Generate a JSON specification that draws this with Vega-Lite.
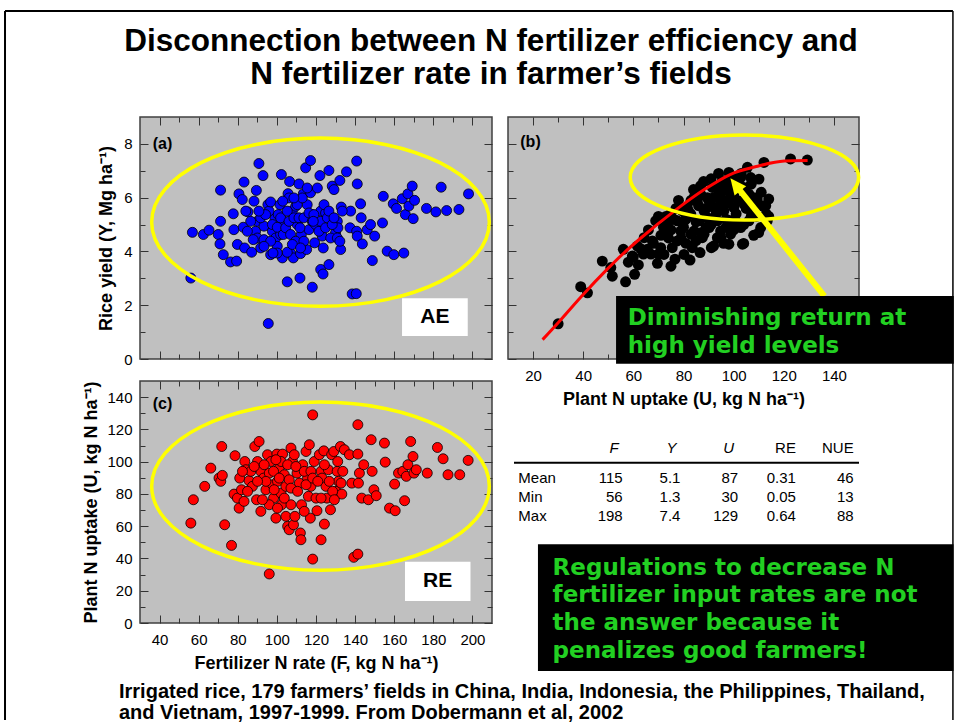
{
"$schema":"https://vega.github.io/schema/vega-lite/v6.json",
"background":"white",
"padding":{"left":3,"top":9,"right":0,"bottom":0},
"config":{
 "font":"Liberation Sans",
 "view":{"fill":"#c0c0c0","stroke":"#404040","strokeWidth":1.5},
 "axis":{"domain":false,"grid":false,"tickColor":"#333333","tickWidth":1,"labelFont":"Liberation Sans","labelFontSize":15,"labelColor":"#000000","labelFlush":false,"labelOverlap":false,"titleFont":"Liberation Sans","titleFontSize":18,"titleFontWeight":"bold","titleColor":"#000000","minExtent":0}
},
"bounds":"flush",
"spacing":{"row":22,"column":16},
"columns":2,
"concat":[
{
"width":352,"height":242,
"resolve":{"axis":{"x":"independent","y":"independent"}},
"layer":[
 {"data":{"values":[
{"F":56,"Y":3.01},{"F":56.8,"Y":4.71},{"F":62.4,"Y":4.63},{"F":65.3,"Y":4.79},{"F":70,"Y":4.63},{"F":70.9,"Y":4.28},{"F":71.2,"Y":6.28},{"F":71.2,"Y":5.12},{"F":72.6,"Y":3.88},{"F":76.3,"Y":3.61},{"F":79.4,"Y":3.64},{"F":77.7,"Y":5.4},{"F":78,"Y":4.81},{"F":79.8,"Y":4.26},{"F":80.6,"Y":6.14},{"F":82.3,"Y":5.93},{"F":83.2,"Y":6.58},{"F":83.5,"Y":4.13},{"F":87.1,"Y":3.97},{"F":82.8,"Y":4.9},{"F":85.2,"Y":5.47},{"F":88.3,"Y":5.87},{"F":89.5,"Y":6.27},{"F":90.8,"Y":7.27},{"F":92.9,"Y":6.82},{"F":90,"Y":5.12},{"F":91.7,"Y":4.13},{"F":89.1,"Y":4.75},{"F":93.4,"Y":4.94},{"F":95.4,"Y":5.74},{"F":96,"Y":5.5},{"F":96.8,"Y":5.84},{"F":95.6,"Y":1.32},{"F":96.8,"Y":3.88},{"F":97.7,"Y":4.75},{"F":99,"Y":5.21},{"F":99.4,"Y":4.5},{"F":100.2,"Y":4.19},{"F":101.9,"Y":4.63},{"F":102.3,"Y":6.86},{"F":101.6,"Y":5.74},{"F":102.8,"Y":3.76},{"F":103.6,"Y":5.12},{"F":105.3,"Y":2.87},{"F":105.7,"Y":6.15},{"F":106.5,"Y":6.6},{"F":106.2,"Y":5.99},{"F":107,"Y":3.94},{"F":107.9,"Y":5.5},{"F":108.4,"Y":3.76},{"F":109.6,"Y":5.68},{"F":110.4,"Y":5.0},{"F":111.3,"Y":6.51},{"F":111.8,"Y":3.01},{"F":112.1,"Y":3.92},{"F":112.5,"Y":4.63},{"F":113.5,"Y":6.14},{"F":114.7,"Y":7.11},{"F":115.2,"Y":4.07},{"F":115.5,"Y":5.74},{"F":116.4,"Y":4.81},{"F":117.2,"Y":7.38},{"F":117.2,"Y":6.18},{"F":117.8,"Y":5.37},{"F":118.1,"Y":2.67},{"F":119.3,"Y":4.32},{"F":120.7,"Y":6.36},{"F":122,"Y":6.82},{"F":122.4,"Y":5.5},{"F":122.4,"Y":3.33},{"F":123.2,"Y":4.57},{"F":123.6,"Y":3.16},{"F":123.7,"Y":4.13},{"F":124.9,"Y":5.43},{"F":126.6,"Y":3.51},{"F":126.6,"Y":7.01},{"F":128.3,"Y":6.43},{"F":129.2,"Y":6.3},{"F":130,"Y":4.69},{"F":130.9,"Y":5.12},{"F":131.2,"Y":4.88},{"F":132.2,"Y":6.64},{"F":132.6,"Y":4.07},{"F":132.9,"Y":5.65},{"F":135.6,"Y":6.96},{"F":137.7,"Y":5.5},{"F":137.4,"Y":4.88},{"F":138.5,"Y":2.42},{"F":140.6,"Y":2.43},{"F":140.8,"Y":7.36},{"F":141.1,"Y":6.51},{"F":140.8,"Y":4.75},{"F":141.1,"Y":4.57},{"F":142.8,"Y":5.77},{"F":143.1,"Y":5.25},{"F":143.7,"Y":4.28},{"F":146.2,"Y":4.81},{"F":147.9,"Y":5.0},{"F":148.8,"Y":3.66},{"F":150,"Y":4.57},{"F":154,"Y":5.06},{"F":154.4,"Y":6.05},{"F":156.4,"Y":4.01},{"F":159.5,"Y":5.77},{"F":159.8,"Y":3.88},{"F":161.2,"Y":5.6},{"F":164.1,"Y":5.96},{"F":164.9,"Y":3.94},{"F":165.7,"Y":5.37},{"F":167,"Y":6.14},{"F":167.5,"Y":5.69},{"F":169.2,"Y":6.43},{"F":169.7,"Y":5.22},{"F":170.4,"Y":5.9},{"F":176.5,"Y":5.6},{"F":181.3,"Y":5.47},{"F":184,"Y":6.39},{"F":186.8,"Y":5.52},{"F":193.1,"Y":5.56},{"F":198,"Y":6.14},
{"F":86.6,"Y":5.12},{"F":90,"Y":4.5},{"F":91.7,"Y":5.25},{"F":93.4,"Y":4.44},{"F":94.2,"Y":5.37},{"F":96.8,"Y":4.38},{"F":97.7,"Y":5.0},{"F":100.2,"Y":4.9},{"F":100.7,"Y":5.37},{"F":101.9,"Y":5.25},{"F":103.3,"Y":4.63},{"F":104.5,"Y":4.88},{"F":105.3,"Y":5.5},{"F":106.2,"Y":5.12},{"F":107,"Y":4.63},{"F":108.7,"Y":5.25},{"F":109.6,"Y":4.38},{"F":111.3,"Y":5.25},{"F":111.8,"Y":4.88},{"F":113.8,"Y":5.25},{"F":113.8,"Y":4.38},{"F":116.4,"Y":5.43},{"F":118.1,"Y":5.12},{"F":118.9,"Y":5.37},{"F":119.8,"Y":5.0},{"F":121.5,"Y":4.75},{"F":122.4,"Y":5.12},{"F":124.1,"Y":5.74},{"F":124.9,"Y":4.88},{"F":125.8,"Y":5.25},{"F":126.6,"Y":5.5},{"F":127.5,"Y":4.5},{"F":128.3,"Y":5.0},{"F":129.2,"Y":5.25},{"F":130.9,"Y":4.5},{"F":132.2,"Y":4.38},{"F":133.4,"Y":5.5},{"F":103,"Y":5.87},{"F":110.4,"Y":5.74},{"F":113,"Y":5.99},{"F":108.7,"Y":5.99},{"F":115.5,"Y":6.36},{"F":118.6,"Y":5.12},{"F":105.3,"Y":3.97},{"F":107.9,"Y":4.26},{"F":112.1,"Y":4.13},{"F":93.4,"Y":4.19},{"F":100.2,"Y":3.94},{"F":87.9,"Y":4.44},{"F":84.9,"Y":4.75},{"F":84.1,"Y":5.5},{"F":90.8,"Y":5.5},{"F":98,"Y":3.94}
 ]},
  "mark":{"type":"circle","color":"#0000ff","stroke":"#000000","strokeWidth":0.8,"size":100,"opacity":1},
  "encoding":{
   "x":{"field":"F","type":"quantitative","scale":{"domain":[30,210],"nice":false,"zero":false},"axis":{"orient":"bottom","values":[40,60,80,100,120,140,160,180,200],"labels":false,"tickSize":-8,"title":null}},
   "y":{"field":"Y","type":"quantitative","scale":{"domain":[0,9],"nice":false,"zero":false},"axis":{"orient":"left","values":[0,2,4,6,8],"tickSize":-8,"labelPadding":16,"title":"Rice yield (Y, Mg ha\u207b\u00b9)","titlePadding":8}}}},
 {"data":{"values":[{}]},
  "mark":{"type":"point","shape":"M -1 0 C -1 -0.275 -0.5523 -0.498 0 -0.498 C 0.5523 -0.498 1 -0.275 1 0 C 1 0.275 0.5523 0.498 0 0.498 C -0.5523 0.498 -1 0.275 -1 0 Z","size":114000,"filled":false,"stroke":"#ffff00","strokeWidth":3.5,"opacity":1},
  "encoding":{
   "x":{"datum":122.3,"type":"quantitative","axis":{"orient":"top","values":[40,60,80,100,120,140,160,180,200],"labels":false,"tickSize":-8,"title":null}},
   "y":{"datum":5.09,"type":"quantitative","axis":{"orient":"right","values":[0,2,4,6,8],"labels":false,"tickSize":-8,"title":null}}}},
 {"data":{"values":[{}]},
  "mark":{"type":"rect","color":"#ffffff","opacity":1},
  "encoding":{
   "x":{"datum":164,"type":"quantitative","axis":{"orient":"bottom","values":[50,70,90,110,130,150,170,190],"labels":false,"tickSize":-5,"title":null}},
   "x2":{"datum":197.6},
   "y":{"datum":2.257,"type":"quantitative","axis":{"orient":"left","values":[1,3,5,7],"labels":false,"tickSize":-5,"title":null}},
   "y2":{"datum":0.855}}},
 {"data":{"values":[{}]},
  "mark":{"type":"text","text":"AE","fontSize":21,"fontWeight":"bold","align":"center","baseline":"middle","color":"#000000"},
  "encoding":{
   "x":{"datum":180.8,"type":"quantitative","axis":{"orient":"top","values":[50,70,90,110,130,150,170,190],"labels":false,"tickSize":-5,"title":null}},
   "y":{"datum":1.556,"type":"quantitative","axis":{"orient":"right","values":[1,3,5,7],"labels":false,"tickSize":-5,"title":null}}}},
 {"data":{"values":[{}]},
  "mark":{"type":"text","text":"(a)","fontSize":16,"fontWeight":"bold","align":"left","baseline":"middle","color":"#000000"},
  "encoding":{"x":{"datum":36.5,"type":"quantitative","axis":null},"y":{"datum":8.0,"type":"quantitative","axis":null}}},
 {"data":{"values":[{}]},
  "mark":{"type":"text","text":["Disconnection between N fertilizer efficiency and","N fertilizer rate in farmer\u2019s fields"],"fontSize":31.5,"fontWeight":"bold","align":"center","baseline":"alphabetic","lineHeight":33,"color":"#000000"},
  "encoding":{"x":{"datum":209.5,"type":"quantitative","axis":null},"y":{"datum":11.473,"type":"quantitative","axis":null}}},
 {"data":{"values":[{}]},
  "mark":{"type":"rule","color":"#000000","strokeWidth":2},
  "encoding":{"x":{"datum":-39.03,"type":"quantitative","axis":null},"y":{"datum":12.942,"type":"quantitative","axis":null},"y2":{"datum":-13.426}}},
 {"data":{"values":[{}]},
  "mark":{"type":"rule","color":"#000000","strokeWidth":2},
  "encoding":{"x":{"datum":-39.03,"type":"quantitative","axis":null},"x2":{"datum":445.7},"y":{"datum":12.942,"type":"quantitative","axis":null}}},
 {"data":{"values":[{}]},
  "mark":{"type":"rule","color":"#000000","strokeWidth":1.5},
  "encoding":{"x":{"datum":445.7,"type":"quantitative","axis":null},"y":{"datum":12.942,"type":"quantitative","axis":null},"y2":{"datum":-13.426}}}
]
},
{
"width":351,"height":242,
"resolve":{"axis":{"x":"independent","y":"independent"}},
"layer":[
 {"data":{"values":[
{"U":30,"Y":1.31},{"U":39,"Y":2.69},{"U":41.7,"Y":2.46},{"U":47.6,"Y":3.64},{"U":51.6,"Y":3.08},{"U":51,"Y":3.4},{"U":56,"Y":4.08},{"U":56.9,"Y":2.87},{"U":60.5,"Y":3.15},{"U":59.6,"Y":3.83},{"U":61.6,"Y":4.2},{"U":64.3,"Y":4.51},{"U":65.6,"Y":4.08},{"U":67.6,"Y":4.39},{"U":69.6,"Y":3.56},{"U":68.9,"Y":5.14},{"U":70.9,"Y":4.14},{"U":72.2,"Y":4.64},{"U":73.6,"Y":5.01},{"U":74.9,"Y":5.39},{"U":76.6,"Y":3.71},{"U":77.5,"Y":4.39},{"U":78.9,"Y":4.76},{"U":80.2,"Y":5.14},{"U":81.5,"Y":5.63},{"U":82.6,"Y":3.68},{"U":83.5,"Y":4.14},{"U":84.2,"Y":4.76},{"U":85.5,"Y":5.88},{"U":86.2,"Y":5.14},{"U":86.6,"Y":3.96},{"U":86.8,"Y":6.44},{"U":87.5,"Y":4.51},{"U":88.2,"Y":5.51},{"U":89.5,"Y":6.0},{"U":90.2,"Y":4.89},{"U":91.1,"Y":4.14},{"U":91.5,"Y":6.38},{"U":92.2,"Y":5.63},{"U":93.5,"Y":5.14},{"U":94.2,"Y":6.13},{"U":94.8,"Y":4.76},{"U":95.5,"Y":6.63},{"U":96.1,"Y":5.51},{"U":96.8,"Y":5.88},{"U":98.1,"Y":6.94},{"U":98.1,"Y":4.27},{"U":98.8,"Y":5.14},{"U":99.5,"Y":6.26},{"U":100.1,"Y":5.63},{"U":101.5,"Y":6.63},{"U":102.1,"Y":5.88},{"U":102.8,"Y":4.89},{"U":103.5,"Y":4.27},{"U":104.1,"Y":6.38},{"U":105.5,"Y":7.13},{"U":106.1,"Y":5.14},{"U":106.8,"Y":6.75},{"U":108.1,"Y":5.63},{"U":109.4,"Y":5.95},{"U":110.1,"Y":6.69},{"U":110.8,"Y":4.89},{"U":112.1,"Y":7.31},{"U":112.8,"Y":5.7},{"U":113.4,"Y":5.14},{"U":122.7,"Y":7.44},{"U":129.4,"Y":7.4},
{"U":82.9,"Y":5.39},{"U":84.2,"Y":6.01},{"U":90.8,"Y":5.76},{"U":92.8,"Y":6.38},{"U":94.8,"Y":5.88},{"U":96.1,"Y":6.26},{"U":97.5,"Y":6.5},{"U":98.8,"Y":6.01},{"U":100.8,"Y":6.38},{"U":102.8,"Y":6.75},{"U":104.1,"Y":5.76},{"U":106.1,"Y":6.13},{"U":77.5,"Y":5.14},{"U":79.5,"Y":5.51},{"U":82.9,"Y":4.64},{"U":89.5,"Y":5.26},{"U":88.2,"Y":4.64},{"U":93.5,"Y":4.51},{"U":98.8,"Y":4.64},{"U":75.5,"Y":4.14},{"U":72.2,"Y":3.89},{"U":80.2,"Y":3.89},
{"U":66,"Y":4.8},{"U":68,"Y":4.3},{"U":70,"Y":5.3},{"U":72,"Y":4.9},{"U":74,"Y":4.5},{"U":76,"Y":5.2},{"U":78,"Y":5.9},{"U":80,"Y":4.9},{"U":82,"Y":5.5},{"U":84,"Y":6.3},{"U":85,"Y":4.4},{"U":86,"Y":5.7},{"U":88,"Y":6.6},{"U":89,"Y":4.9},{"U":90,"Y":5.9},{"U":91,"Y":6.7},{"U":93,"Y":5.4},{"U":94,"Y":6.9},{"U":95,"Y":4.5},{"U":96,"Y":6.4},{"U":97,"Y":5.2},{"U":99,"Y":6.8},{"U":100,"Y":4.8},{"U":101,"Y":5.4},{"U":103,"Y":6.9},{"U":105,"Y":5.6},{"U":107,"Y":6.5},{"U":108,"Y":4.6},{"U":111,"Y":6.2},{"U":113,"Y":5.4},{"U":114,"Y":5.3},{"U":58,"Y":3.6},{"U":62,"Y":3.5},{"U":64,"Y":3.9},{"U":75,"Y":3.45},{"U":92,"Y":4.2},{"U":104,"Y":4.3},{"U":110,"Y":4.7},{"U":114,"Y":5.95},
{"U":71,"Y":4.6},{"U":73,"Y":5.3},{"U":75,"Y":4.8},{"U":77,"Y":5.6},{"U":79,"Y":4.5},{"U":81,"Y":5.2},{"U":83,"Y":5.9},{"U":85,"Y":5.1},{"U":87,"Y":6.1},{"U":87,"Y":4.7},{"U":89,"Y":5.6},{"U":91,"Y":5.0},{"U":92,"Y":6.0},{"U":94,"Y":5.6},{"U":95,"Y":6.2},{"U":97,"Y":4.9},{"U":98,"Y":5.8},{"U":100,"Y":6.1},{"U":101,"Y":5.1},{"U":102,"Y":6.6},{"U":104,"Y":5.0},{"U":105,"Y":6.1},{"U":107,"Y":5.3},{"U":108,"Y":6.0},{"U":109,"Y":5.3},{"U":111,"Y":5.7},{"U":67,"Y":3.9},{"U":63,"Y":4.1},{"U":60,"Y":3.8},{"U":70,"Y":3.9},{"U":81,"Y":4.3},{"U":96,"Y":4.3}
 ]},
  "mark":{"type":"circle","color":"#000000","size":120,"opacity":1},
  "encoding":{
   "x":{"field":"U","type":"quantitative","scale":{"domain":[10,150],"nice":false,"zero":false},"axis":{"orient":"bottom","values":[20,40,60,80,100,120,140],"tickSize":-8,"labelPadding":17,"title":"Plant N uptake (U, kg N ha\u207b\u00b9)","titlePadding":7}},
   "y":{"field":"Y","type":"quantitative","scale":{"domain":[0,9],"nice":false,"zero":false},"axis":{"orient":"left","values":[0,2,4,6,8],"labels":false,"tickSize":-8,"title":null}}}},
 {"data":{"values":[
{"U":23.8,"Y":0.72},{"U":30,"Y":1.35},{"U":39,"Y":2.3},{"U":49.7,"Y":3.35},{"U":56.3,"Y":3.95},{"U":63,"Y":4.5},{"U":76.3,"Y":5.5},{"U":88.3,"Y":6.3},{"U":98.6,"Y":6.86},{"U":109.6,"Y":7.17},{"U":120.2,"Y":7.36},{"U":129.5,"Y":7.38}
 ]},
  "mark":{"type":"line","color":"#ff0000","strokeWidth":3,"interpolate":"monotone"},
  "encoding":{
   "x":{"field":"U","type":"quantitative","axis":{"orient":"top","values":[20,40,60,80,100,120,140],"labels":false,"tickSize":-8,"title":null}},
   "y":{"field":"Y","type":"quantitative","axis":{"orient":"right","values":[0,2,4,6,8],"labels":false,"tickSize":-8,"title":null}}}},
 {"data":{"values":[{}]},
  "mark":{"type":"point","shape":"M -1 0 C -1 -0.2055 -0.5523 -0.372 0 -0.372 C 0.5523 -0.372 1 -0.2055 1 0 C 1 0.2055 0.5523 0.372 0 0.372 C -0.5523 0.372 -1 0.2055 -1 0 Z","size":52170,"filled":false,"stroke":"#ffff00","strokeWidth":3.5,"opacity":1},
  "encoding":{
   "x":{"datum":104.3,"type":"quantitative","axis":{"orient":"bottom","values":[30,50,70,90,110,130],"labels":false,"tickSize":-5,"title":null}},
   "y":{"datum":6.75,"type":"quantitative","axis":{"orient":"left","values":[1,3,5,7],"labels":false,"tickSize":-5,"title":null}}}},
 {"data":{"values":[{}]},
  "mark":{"type":"rule","color":"#ffff00","strokeWidth":6},
  "encoding":{
   "x":{"datum":136.2,"type":"quantitative","axis":{"orient":"top","values":[30,50,70,90,110,130],"labels":false,"tickSize":-5,"title":null}},
   "x2":{"datum":102.1},
   "y":{"datum":2.34,"type":"quantitative","axis":{"orient":"right","values":[1,3,5,7],"labels":false,"tickSize":-5,"title":null}},
   "y2":{"datum":6.315}}},
 {"data":{"values":[{}]},
  "mark":{"type":"point","shape":"M 0 0 L 0.65 1.4 L -0.65 1.4 Z","size":522,"filled":true,"color":"#ffff00","opacity":1,"angle":321.4},
  "encoding":{"x":{"datum":98.7,"type":"quantitative","axis":null},"y":{"datum":6.72,"type":"quantitative","axis":null}}},
 {"data":{"values":[{}]},
  "mark":{"type":"rect","color":"#000000","opacity":1},
  "encoding":{"x":{"datum":53.1,"type":"quantitative","axis":null},"x2":{"datum":187.8},"y":{"datum":2.343,"type":"quantitative","axis":null},"y2":{"datum":-0.175}}},
 {"data":{"values":[{}]},
  "mark":{"type":"text","text":["Diminishing return at","high yield levels"],"font":"DejaVu Sans","fontSize":23,"fontWeight":"bold","align":"left","baseline":"middle","lineHeight":28.3,"color":"#22d022"},
  "encoding":{"x":{"datum":57.75,"type":"quantitative","axis":null},"y":{"datum":1.536,"type":"quantitative","axis":null}}},
 {"data":{"values":[{}]},
  "mark":{"type":"text","text":"(b)","fontSize":16,"fontWeight":"bold","align":"left","baseline":"middle","color":"#000000"},
  "encoding":{"x":{"datum":14.9,"type":"quantitative","axis":null},"y":{"datum":8.08,"type":"quantitative","axis":null}}}
]
},
{
"width":352,"height":242,
"resolve":{"axis":{"x":"independent","y":"independent"}},
"layer":[
 {"data":{"values":[
{"F":56,"U":61.9},{"F":57.3,"U":76.4},{"F":63.1,"U":84.7},{"F":66.2,"U":96},{"F":70.4,"U":89.8},{"F":71.3,"U":87.8},{"F":71.8,"U":109.4},{"F":72.1,"U":91.5},{"F":73.3,"U":60.9},{"F":76.8,"U":48.1},{"F":78.1,"U":79.9},{"F":78.6,"U":103.7},{"F":79.8,"U":77.4},{"F":80.7,"U":71.2},{"F":81,"U":89.8},{"F":81.9,"U":82.6},{"F":83.2,"U":75.4},{"F":83.6,"U":100.1},{"F":84.1,"U":95},{"F":85.8,"U":88.2},{"F":87.5,"U":84.7},{"F":88.7,"U":109.4},{"F":89.6,"U":76.4},{"F":90.1,"U":100.1},{"F":90.9,"U":112.5},{"F":91.8,"U":94},{"F":91.8,"U":69.2},{"F":93.2,"U":89.8},{"F":94.4,"U":82.6},{"F":95.2,"U":104.3},{"F":96.1,"U":92.9},{"F":96.1,"U":30.4},{"F":97,"U":100.1},{"F":97.8,"U":85.7},{"F":98.3,"U":77.4},{"F":99.5,"U":65},{"F":100,"U":104.7},{"F":100.3,"U":87.8},{"F":101.2,"U":96},{"F":102.1,"U":80.5},{"F":102.4,"U":73.3},{"F":102.9,"U":104.7},{"F":103.8,"U":91.9},{"F":104.6,"U":66.1},{"F":105.5,"U":59.9},{"F":106.3,"U":57.8},{"F":107.2,"U":108.4},{"F":108,"U":100.1},{"F":108.5,"U":60.9},{"F":109.2,"U":66.1},{"F":110.3,"U":92.9},{"F":111.5,"U":86.7},{"F":112,"U":55.8},{"F":112.3,"U":51.6},{"F":112.6,"U":73.3},{"F":113.2,"U":98.1},{"F":114.9,"U":106.3},{"F":115.7,"U":89.8},{"F":116.1,"U":78.5},{"F":116.6,"U":110.5},{"F":117.1,"U":65},{"F":117.4,"U":84.7},{"F":118.3,"U":129},{"F":118.3,"U":39.6},{"F":119.1,"U":100.1},{"F":120,"U":77.4},{"F":120.5,"U":69.6},{"F":121.7,"U":104.3},{"F":122.6,"U":94},{"F":123.1,"U":89.8},{"F":124,"U":106.7},{"F":124.3,"U":61.3},{"F":122.6,"U":51.6},{"F":125.1,"U":84.7},{"F":125.6,"U":77.4},{"F":126.3,"U":95},{"F":127.4,"U":70.2},{"F":128,"U":104.3},{"F":129.1,"U":106.3},{"F":130.3,"U":81.6},{"F":130.8,"U":94},{"F":131.5,"U":87.8},{"F":132.5,"U":109.4},{"F":132.8,"U":86.7},{"F":133.2,"U":79.9},{"F":134.5,"U":107.4},{"F":137.1,"U":104.3},{"F":138.3,"U":86.7},{"F":139.3,"U":40.7},{"F":141.4,"U":104.7},{"F":141.4,"U":122.9},{"F":141.4,"U":42.7},{"F":141.7,"U":86.7},{"F":142.2,"U":92.9},{"F":143.4,"U":77.4},{"F":144.4,"U":98.1},{"F":146.8,"U":76.4},{"F":148.2,"U":113.6},{"F":148.7,"U":94},{"F":149.6,"U":82.6},{"F":150.8,"U":78.9},{"F":155,"U":111.5},{"F":155.4,"U":99.7},{"F":157.6,"U":71.2},{"F":160.2,"U":86.1},{"F":160.5,"U":69.6},{"F":162.2,"U":92.9},{"F":164.4,"U":94},{"F":165.3,"U":75.8},{"F":166.2,"U":90.9},{"F":167,"U":98.1},{"F":168.4,"U":112.5},{"F":169.6,"U":103.2},{"F":170.1,"U":92.9},{"F":171.3,"U":95},{"F":176.9,"U":92.9},{"F":182.1,"U":108.8},{"F":185,"U":101.8},{"F":187.5,"U":91.9},{"F":193.5,"U":91.9},{"F":197.8,"U":100.8},
{"F":86.7,"U":94},{"F":88.4,"U":97},{"F":93.5,"U":98.1},{"F":94.4,"U":87.8},{"F":98.3,"U":94},{"F":98.6,"U":82.6},{"F":101.2,"U":89.8},{"F":102.1,"U":100.1},{"F":104.6,"U":84.7},{"F":105.5,"U":98.1},{"F":106.3,"U":88.8},{"F":107.2,"U":83.6},{"F":109.7,"U":97},{"F":110.6,"U":81.6},{"F":114,"U":94},{"F":114.9,"U":85.7},{"F":117.4,"U":94},{"F":118.3,"U":89.8},{"F":120.9,"U":87.8},{"F":124.3,"U":98.1},{"F":126.8,"U":87.8},{"F":128.5,"U":81.6},{"F":131.1,"U":100.1},{"F":133.7,"U":94},{"F":96.1,"U":73.3},{"F":100.3,"U":71.2},{"F":107.2,"U":73.3},{"F":103.8,"U":77.4},{"F":114,"U":69.2},{"F":85,"U":81.6},{"F":90.1,"U":87.8},{"F":82.4,"U":94},{"F":122.6,"U":77.4},{"F":129.4,"U":76.4},{"F":108.9,"U":104.3},{"F":99.5,"U":101.2},{"F":92.6,"U":76.4}
 ]},
  "mark":{"type":"circle","color":"#ff0000","stroke":"#000000","strokeWidth":0.8,"size":100,"opacity":1},
  "encoding":{
   "x":{"field":"F","type":"quantitative","scale":{"domain":[30,210],"nice":false,"zero":false},"axis":{"orient":"bottom","values":[40,60,80,100,120,140,160,180,200],"tickSize":-8,"labelPadding":17,"title":"Fertilizer N rate (F, kg N ha\u207b\u00b9)","titlePadding":7}},
   "y":{"field":"U","type":"quantitative","scale":{"domain":[0,150],"nice":false,"zero":false},"axis":{"orient":"left","values":[0,20,40,60,80,100,120,140],"tickSize":-8,"labelPadding":16,"title":"Plant N uptake (U, kg N ha\u207b\u00b9)","titlePadding":6}}}},
 {"data":{"values":[{}]},
  "mark":{"type":"point","shape":"M -1 0 C -1 -0.275 -0.5523 -0.498 0 -0.498 C 0.5523 -0.498 1 -0.275 1 0 C 1 0.275 0.5523 0.498 0 0.498 C -0.5523 0.498 -1 0.275 -1 0 Z","size":114000,"filled":false,"stroke":"#ffff00","strokeWidth":3.5,"opacity":1},
  "encoding":{
   "x":{"datum":122.3,"type":"quantitative","axis":{"orient":"top","values":[40,60,80,100,120,140,160,180,200],"labels":false,"tickSize":-8,"title":null}},
   "y":{"datum":84.8,"type":"quantitative","axis":{"orient":"right","values":[0,20,40,60,80,100,120,140],"labels":false,"tickSize":-8,"title":null}}}},
 {"data":{"values":[{}]},
  "mark":{"type":"rect","color":"#ffffff","opacity":1},
  "encoding":{
   "x":{"datum":165.5,"type":"quantitative","axis":{"orient":"bottom","values":[50,70,90,110,130,150,170,190],"labels":false,"tickSize":-5,"title":null}},
   "x2":{"datum":199},
   "y":{"datum":38,"type":"quantitative","axis":{"orient":"left","values":[10,30,50,70,90,110,130],"labels":false,"tickSize":-5,"title":null}},
   "y2":{"datum":13.6}}},
 {"data":{"values":[{}]},
  "mark":{"type":"text","text":"RE","fontSize":21,"fontWeight":"bold","align":"center","baseline":"middle","color":"#000000"},
  "encoding":{
   "x":{"datum":182.2,"type":"quantitative","axis":{"orient":"top","values":[50,70,90,110,130,150,170,190],"labels":false,"tickSize":-5,"title":null}},
   "y":{"datum":25.8,"type":"quantitative","axis":{"orient":"right","values":[10,30,50,70,90,110,130],"labels":false,"tickSize":-5,"title":null}}}},
 {"data":{"values":[{}]},
  "mark":{"type":"text","text":"(c)","fontSize":16,"fontWeight":"bold","align":"left","baseline":"middle","color":"#000000"},
  "encoding":{"x":{"datum":36.5,"type":"quantitative","axis":null},"y":{"datum":135.9,"type":"quantitative","axis":null}}},
 {"data":{"values":[{}]},
  "mark":{"type":"rect","color":"#000000","opacity":1},
  "encoding":{"x":{"datum":233.5,"type":"quantitative","axis":null},"x2":{"datum":446},"y":{"datum":48.8,"type":"quantitative","axis":null},"y2":{"datum":-29.75}}},
 {"data":{"values":[{}]},
  "mark":{"type":"text","text":["Regulations to decrease N","fertilizer input rates are not","the answer because it","penalizes good farmers!"],"font":"DejaVu Sans","fontSize":23,"fontWeight":"bold","align":"left","baseline":"middle","lineHeight":27.8,"color":"#22d022"},
  "encoding":{"x":{"datum":241,"type":"quantitative","axis":null},"y":{"datum":34.28,"type":"quantitative","axis":null}}},
 {"data":{"values":[{}]},
  "mark":{"type":"text","text":["Irrigated rice, 179 farmers\u2019 fields in China, India, Indonesia, the Philippines, Thailand,","and Vietnam, 1997-1999. From Dobermann et al, 2002"],"fontSize":20,"fontWeight":"bold","align":"left","baseline":"middle","lineHeight":20.5,"color":"#000000"},
  "encoding":{"x":{"datum":19.26,"type":"quantitative","axis":null},"y":{"datum":-42.77,"type":"quantitative","axis":null}}}
]
},
{
"width":351,"height":242,
"view":{"fill":null,"stroke":null},
"data":{"values":[
{"stat":"Mean","col":"F","val":115},{"stat":"Mean","col":"Y","val":5.1},{"stat":"Mean","col":"U","val":87},{"stat":"Mean","col":"RE","val":0.31},{"stat":"Mean","col":"NUE","val":46},
{"stat":"Min","col":"F","val":56},{"stat":"Min","col":"Y","val":1.3},{"stat":"Min","col":"U","val":30},{"stat":"Min","col":"RE","val":0.05},{"stat":"Min","col":"NUE","val":13},
{"stat":"Max","col":"F","val":198},{"stat":"Max","col":"Y","val":7.4},{"stat":"Max","col":"U","val":129},{"stat":"Max","col":"RE","val":0.64},{"stat":"Max","col":"NUE","val":88}
]},
"layer":[
 {"mark":{"type":"text","align":"right","baseline":"middle","fontSize":15,"color":"#000000"},
  "encoding":{
   "x":{"field":"col","type":"nominal","scale":{"type":"point","domain":["F","Y","U","RE","NUE"],"range":[114.7,345.7],"padding":0},"axis":null},
   "y":{"field":"stat","type":"nominal","scale":{"type":"point","domain":["Mean","Min","Max"],"range":[97.3,135],"padding":0},"axis":null},
   "text":{"field":"val","type":"nominal"}}},
 {"transform":[{"filter":"datum.col === 'F'"}],
  "mark":{"type":"text","align":"left","baseline":"middle","fontSize":15,"dx":-104.4,"color":"#000000"},
  "encoding":{
   "x":{"field":"col","type":"nominal","axis":null},
   "y":{"field":"stat","type":"nominal","axis":null},
   "text":{"field":"stat","type":"nominal"}}},
 {"data":{"values":[{"col":"F"},{"col":"Y"},{"col":"U"}]},
  "mark":{"type":"text","align":"right","baseline":"middle","fontSize":15,"fontStyle":"italic","dx":-4,"dy":-30.6,"color":"#000000"},
  "encoding":{
   "x":{"field":"col","type":"nominal","axis":null},
   "y":{"datum":"Mean","type":"nominal","axis":null},
   "text":{"field":"col","type":"nominal"}}},
 {"data":{"values":[{"col":"RE"},{"col":"NUE"}]},
  "mark":{"type":"text","align":"right","baseline":"middle","fontSize":15,"dy":-30.6,"color":"#000000"},
  "encoding":{
   "x":{"field":"col","type":"nominal","axis":null},
   "y":{"datum":"Mean","type":"nominal","axis":null},
   "text":{"field":"col","type":"nominal"}}},
 {"data":{"values":[{}]},
  "mark":{"type":"rule","color":"#000000","strokeWidth":2,"xOffset":-108.7,"x2Offset":5.3,"yOffset":-15.6},
  "encoding":{
   "x":{"datum":"F","type":"nominal","axis":null},
   "x2":{"datum":"NUE"},
   "y":{"datum":"Mean","type":"nominal","axis":null}}}
]
}
]
}
